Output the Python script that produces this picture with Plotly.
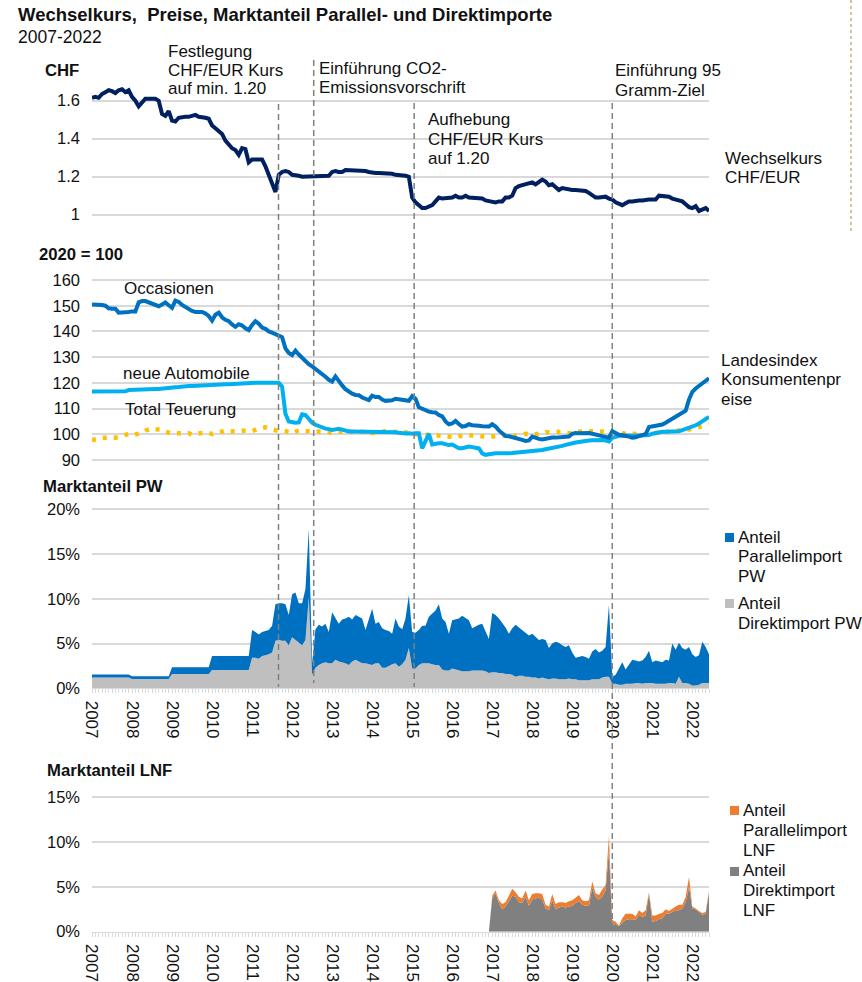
import plotly.graph_objects as go

# ---------------------------------------------------------------
# Monthly data, January 2007 .. June 2022
# ---------------------------------------------------------------
START_YEAR = 2007

# Exchange rate CHF per EUR
chf_eur = [
    1.615, 1.62, 1.615, 1.635, 1.645, 1.655, 1.65, 1.64, 1.655, 1.66, 1.645, 1.655,   # 2007
    1.62, 1.60, 1.57, 1.59, 1.61, 1.61, 1.61, 1.61, 1.60, 1.53, 1.52, 1.545,          # 2008
    1.495, 1.49, 1.51, 1.515, 1.515, 1.515, 1.52, 1.525, 1.515, 1.515, 1.51, 1.505,   # 2009
    1.47, 1.455, 1.44, 1.425, 1.39, 1.37, 1.35, 1.34, 1.315, 1.35, 1.345, 1.275,      # 2010
    1.29, 1.29, 1.29, 1.29, 1.255, 1.21, 1.17, 1.12, 1.21, 1.225, 1.23, 1.225,        # 2011
    1.21, 1.21, 1.205, 1.20, 1.20, 1.20, 1.20, 1.20, 1.205, 1.205, 1.205, 1.205,      # 2012
    1.225, 1.23, 1.225, 1.225, 1.235, 1.235, 1.235, 1.23, 1.23, 1.23, 1.23, 1.225,    # 2013
    1.22, 1.22, 1.22, 1.22, 1.22, 1.215, 1.215, 1.21, 1.21, 1.21, 1.205, 1.20,        # 2014
    1.09, 1.065, 1.05, 1.035, 1.035, 1.04, 1.05, 1.07, 1.09, 1.085, 1.085, 1.085,     # 2015
    1.09, 1.10, 1.09, 1.09, 1.10, 1.09, 1.09, 1.09, 1.09, 1.085, 1.075, 1.07,         # 2016
    1.07, 1.065, 1.07, 1.07, 1.09, 1.09, 1.10, 1.14, 1.15, 1.155, 1.16, 1.165,        # 2017
    1.17, 1.16, 1.17, 1.185, 1.175, 1.155, 1.16, 1.145, 1.13, 1.14, 1.135, 1.13,      # 2018
    1.13, 1.13, 1.13, 1.13, 1.125, 1.115, 1.105, 1.09, 1.09, 1.095, 1.095, 1.085,     # 2019
    1.08, 1.065, 1.06, 1.05, 1.06, 1.07, 1.07, 1.075, 1.075, 1.075, 1.08, 1.08,       # 2020
    1.08, 1.08, 1.10, 1.10, 1.095, 1.095, 1.085, 1.08, 1.08, 1.07, 1.055, 1.04,       # 2021
    1.035, 1.045, 1.02, 1.025, 1.035, 1.02,                                           # 2022
]

# Consumer price index components, 2020 = 100
occasionen = [
    150.5, 150.5, 150.3, 150.3, 150.0, 149.0, 148.8, 148.8, 147.3, 147.3, 147.3, 147.6,
    147.8, 147.8, 151.3, 151.8, 151.8, 151.3, 150.8, 150.5, 149.8, 150.5, 151.3, 150.2,
    149.2, 152.0, 151.5, 150.3, 149.4, 148.5, 148.0, 147.6, 147.7, 147.6, 147.0, 146.0,
    144.2, 146.5, 147.3, 145.5, 144.5, 144.0, 142.7, 141.8, 142.8, 142.3, 141.2, 140.5,
    142.5, 144.0, 143.0, 141.5, 141.0, 140.0, 139.5, 139.0, 138.7, 137.8, 133.4, 131.6,
    130.8, 132.5, 131.0, 129.7, 128.4, 127.3, 126.4, 125.5, 124.5, 123.5, 122.4, 121.2,
    120.5, 122.5, 120.5, 119.0, 117.5, 116.5, 115.8, 115.3, 115.2, 114.3, 113.6, 113.3,
    115.0, 114.5, 114.5, 113.5, 113.0, 113.0, 113.2, 113.8, 113.6, 113.6, 113.3, 113.0,
    114.8, 113.8, 110.5, 109.8, 109.3, 108.8, 108.6, 108.5, 107.5, 107.0, 105.0, 103.9,
    104.2, 105.2, 104.0, 103.0, 103.2, 103.9, 103.5, 103.5, 103.3, 103.1, 103.2, 103.0,
    103.9, 103.0, 101.5, 100.2, 99.3, 99.2, 98.9, 98.7, 98.4, 97.8, 97.4, 97.6,
    99.1, 98.5, 98.2, 98.0, 98.3, 98.6, 98.7, 98.7, 98.8, 99.0, 99.1, 99.1,
    100.2, 100.5, 100.4, 100.5, 100.6, 100.5, 100.2, 100.0, 99.6, 99.3, 99.0, 98.7,
    101.2, 100.3, 99.8, 99.6, 99.5, 99.1, 98.7, 98.8, 99.3, 99.8, 100.0, 102.8,
    103.0, 103.2, 103.5, 103.8, 104.5, 105.3, 106.0, 106.9, 107.8, 108.6, 109.2, 113.5,
    116.5, 117.8, 118.8, 119.8, 120.8, 121.8,
]

neue_automobile = [
    116.6, 116.6, 116.6, 116.6, 116.6, 116.6, 116.6, 116.6, 116.6, 116.6, 116.7, 117.2,
    117.3, 117.3, 117.3, 117.4, 117.4, 117.4, 117.5, 117.6, 117.6, 117.8, 118.0, 118.1,
    118.2, 118.3, 118.4, 118.6, 118.7, 118.8, 118.8, 118.9, 119.0, 119.0, 119.1, 119.2,
    119.2, 119.3, 119.3, 119.4, 119.5, 119.5, 119.6, 119.6, 119.7, 119.8, 119.9, 120.0,
    120.0, 120.0, 120.0, 120.0, 120.0, 120.0, 120.0, 120.0, 120.0, 118.5, 108.0, 105.0,
    104.6, 104.5, 104.6, 107.8, 107.5, 106.0, 104.5, 103.7, 103.2, 102.5, 102.2, 102.0,
    101.7, 101.9, 102.1, 101.8, 101.3, 101.1, 101.1, 101.1, 101.1, 101.1, 101.1, 101.1,
    101.1, 101.1, 101.1, 101.1, 101.1, 101.1, 101.1, 100.8, 100.6, 100.4, 100.3, 100.4,
    100.2, 100.4, 100.4, 94.5, 97.0, 100.2, 96.0, 96.3, 96.5, 96.5, 96.2, 95.8,
    96.0, 95.5, 94.6, 94.6, 95.0, 95.2, 95.0, 94.9, 94.5, 92.6, 92.0, 92.2,
    92.5, 92.6, 92.6, 92.5, 92.6, 92.6, 92.7, 92.8, 92.9, 93.0, 93.1, 93.2,
    93.3, 93.5, 93.6, 93.9, 94.2, 94.4, 94.7, 95.0, 95.2, 95.5, 95.9, 96.3,
    96.5, 96.8, 97.0, 97.3, 97.5, 97.6, 97.7, 97.8, 97.8, 97.8, 97.6, 97.2,
    98.6, 99.2, 99.4, 99.5, 99.4, 99.3, 99.2, 99.4, 99.5, 99.6, 99.7, 99.7,
    100.2, 100.6, 100.9, 101.0, 101.0, 101.0, 101.0, 101.0, 101.2, 101.6, 102.0, 102.3,
    102.8, 103.5, 104.2, 105.0, 106.0, 106.8,
]

total_teuerung = [
    97.8, 97.9, 98.3, 98.6, 98.8, 99.0, 98.8, 98.7, 98.9, 99.3, 99.8, 100.1,
    99.6, 99.8, 100.4, 100.6, 101.4, 101.9, 102.3, 102.0, 101.8, 101.7, 101.0, 100.6,
    100.3, 100.5, 100.2, 100.3, 100.3, 100.4, 99.9, 100.2, 100.4, 100.5, 100.6, 100.6,
    100.1, 100.4, 100.9, 101.3, 101.4, 101.1, 101.0, 101.0, 101.2, 101.4, 101.4, 101.2,
    101.2, 101.7, 102.2, 102.5, 102.7, 102.5, 101.9, 101.6, 101.6, 101.6, 101.2, 101.0,
    100.4, 101.0, 101.5, 101.4, 101.3, 101.2, 100.8, 101.0, 101.1, 101.0, 100.7, 100.6,
    100.3, 100.6, 100.9, 100.8, 101.0, 101.1, 100.8, 100.8, 100.9, 100.8, 101.0, 101.0,
    100.4, 100.7, 101.0, 101.1, 101.2, 101.1, 100.9, 100.9, 101.0, 100.9, 100.8, 100.5,
    100.1, 99.9, 100.1, 99.9, 99.9, 99.8, 99.5, 99.4, 99.3, 99.3, 99.2, 99.0,
    98.8, 98.9, 99.2, 99.4, 99.6, 99.7, 99.5, 99.5, 99.4, 99.3, 99.1, 98.9,
    99.1, 99.5, 99.6, 99.6, 99.7, 99.6, 99.3, 99.4, 99.6, 100.0, 100.2, 100.1,
    99.8, 100.0, 100.1, 100.4, 100.8, 101.0, 100.8, 100.9, 101.0, 101.0, 100.7, 100.6,
    100.3, 100.7, 101.0, 101.3, 101.4, 101.3, 101.3, 101.4, 101.1, 101.0, 100.9, 100.8,
    100.6, 100.8, 100.9, 100.3, 100.1, 100.2, 100.1, 100.1, 100.0, 99.8, 99.9, 100.0,
    100.3, 100.5, 100.6, 100.8, 101.0, 101.0, 101.1, 101.3, 101.5, 101.5, 101.7, 101.7,
    101.8, 102.3, 102.8, 103.3, 103.6, 103.9,
]

# Market share of passenger cars (PW), percent
pw_direkt = [
    1.2, 1.2, 1.2, 1.2, 1.2, 1.2, 1.2, 1.2, 1.2, 1.2, 1.2, 1.2,
    1.05, 1.05, 1.05, 1.05, 1.05, 1.05, 1.05, 1.05, 1.05, 1.05, 1.05, 1.05,
    1.6, 1.6, 1.6, 1.6, 1.6, 1.6, 1.6, 1.6, 1.6, 1.6, 1.6, 1.6,
    2.05, 2.05, 2.05, 2.05, 2.05, 2.05, 2.05, 2.05, 2.05, 2.05, 2.05, 2.05,
    3.4, 3.4, 3.3, 3.6, 3.7, 3.8, 4.0, 5.3, 5.4, 5.3, 5.3, 4.8,
    5.7, 5.4, 5.0, 4.8, 5.4, 10.2, 1.5, 2.3, 2.6, 2.8, 2.9, 2.8,
    2.8, 3.2, 3.0, 2.9, 2.8, 2.6, 3.0, 3.2, 3.0, 2.8, 2.8, 2.7,
    2.6, 2.8, 2.8, 2.3, 2.3, 2.5, 2.7, 2.8, 2.4, 2.7, 3.2, 4.5,
    2.2, 2.2, 2.6, 2.8, 2.8, 2.8, 2.7, 2.6, 2.6, 2.1, 2.0, 2.0,
    2.2, 2.1, 2.0, 1.9, 1.9, 1.9, 2.0, 2.0, 2.0, 2.0, 1.9, 1.7,
    1.8, 1.8, 1.7, 1.7, 1.6, 1.6, 1.5, 1.3, 1.4, 1.4, 1.3, 1.3,
    1.2, 1.2, 1.1, 1.2, 1.1, 1.0, 1.1, 1.1, 1.0, 1.0, 1.0, 1.1,
    1.0, 1.0, 0.9, 0.9, 0.9, 0.9, 1.0, 1.0, 1.0, 1.2, 1.3, 1.3,
    0.5, 0.5, 0.4, 0.4, 0.5, 0.5, 0.5, 0.6, 0.6, 0.5, 0.6, 0.6,
    0.6, 0.5, 0.5, 0.5, 0.5, 0.6, 0.6, 0.5, 1.3, 0.6, 0.6, 0.5,
    0.3, 0.3, 0.4, 0.6, 0.6, 0.6,
]

pw_parallel = [
    0.35, 0.35, 0.35, 0.35, 0.35, 0.35, 0.35, 0.35, 0.35, 0.35, 0.35, 0.35,
    0.3, 0.3, 0.3, 0.3, 0.3, 0.3, 0.3, 0.3, 0.3, 0.3, 0.3, 0.3,
    0.75, 0.75, 0.75, 0.75, 0.75, 0.75, 0.75, 0.75, 0.75, 0.75, 0.75, 0.75,
    1.55, 1.55, 1.55, 1.55, 1.55, 1.55, 1.55, 1.55, 1.55, 1.55, 1.55, 1.55,
    3.1, 2.9, 2.7, 2.7, 2.7, 2.7, 3.0, 4.1, 4.1, 4.2, 4.1, 3.4,
    4.8, 5.3, 4.5, 4.7, 5.7, 7.6, 1.3, 4.3, 4.5, 4.1, 4.3, 3.5,
    5.7, 4.6, 4.2, 4.8, 5.0, 5.4, 4.7, 5.0, 5.0, 5.0, 3.7, 4.9,
    6.3, 4.4, 4.6, 4.4, 4.2, 3.9, 3.4, 5.0, 4.5, 3.9, 4.6, 5.9,
    4.1, 4.0, 3.9, 4.2, 4.2, 5.2, 5.6, 6.1, 6.8, 5.7, 5.4, 4.1,
    5.4, 5.6, 5.8, 6.2, 5.9, 5.7, 4.7, 4.9, 5.1, 5.2, 4.4, 3.8,
    6.6, 6.4, 6.1, 5.6, 5.2, 4.5, 5.2, 5.8, 5.4, 5.1, 5.0, 4.6,
    4.9, 4.6, 4.3, 4.3, 4.3, 3.5, 3.9, 4.1, 4.1, 3.8, 3.6, 3.7,
    3.0, 2.4, 2.6, 2.7, 2.6, 2.4, 3.1, 3.4, 3.0, 3.0, 3.3, 8.0,
    0.8, 1.0, 1.8, 2.5, 1.6, 2.2, 2.7, 2.5, 2.4, 2.6, 2.9, 3.6,
    2.3, 2.6, 2.5, 2.4, 2.7, 2.5, 4.4, 3.8, 3.8, 3.9, 3.7, 4.1,
    3.5, 3.2, 3.3, 4.6, 4.0, 3.2,
]

# Market share of light commercial vehicles (LNF), percent, December 2016 .. June 2022
LNF_START = 2016 + 11 / 12
lnf_direkt = [
    0.0,
    3.7, 4.3, 3.2, 2.5, 2.8, 3.4, 4.0, 3.9, 3.3, 3.2, 3.9, 2.9,
    3.6, 3.7, 3.8, 3.6, 2.6, 2.4, 3.5, 2.5, 2.7, 2.8, 2.7, 2.8,
    2.9, 3.2, 3.4, 3.0, 2.9, 2.9, 4.9, 3.9, 3.6, 3.9, 4.6, 9.1,
    0.7, 0.9, 0.6, 1.0, 1.3, 1.4, 1.4, 1.3, 1.9, 1.6, 1.8, 4.2,
    1.1, 1.2, 1.4, 1.5, 2.0, 2.0, 2.2, 2.4, 2.4, 2.6, 3.3, 5.0,
    2.6, 2.5, 2.2, 1.9, 2.0, 4.4,
]
lnf_parallel = [
    0.0,
    0.3, 0.3, 0.3, 0.6, 0.5, 0.6, 0.8, 0.5, 0.6, 0.5, 0.7, 0.6,
    0.6, 0.6, 0.5, 0.6, 0.4, 0.4, 0.7, 0.6, 0.6, 0.5, 0.5, 0.6,
    0.6, 0.6, 0.7, 0.5, 0.5, 0.6, 0.7, 0.4, 0.5, 0.8, 0.6, 1.6,
    0.6, 0.2, 0.1, 0.5, 0.7, 0.6, 0.6, 0.4, 0.5, 0.5, 0.6, 0.2,
    0.7, 0.6, 0.6, 0.6, 0.5, 0.3, 0.4, 0.4, 0.6, 0.4, 0.6, 1.1,
    0.2, 0.1, 0.1, 0.2, 0.2, 0.1,
]

# Policy events marked with vertical dashed lines (decimal years)
events = [2011.66, 2012.54, 2015.05, 2020.0]
years = list(range(2007, 2023))

# ---------------------------------------------------------------
# Geometry helpers (pixel -> paper coordinates)
# ---------------------------------------------------------------
W, H = 862, 982
FONT = "Liberation Sans, Arial, sans-serif"
BLACK = "#111111"
GRID = "#d9d9d9"


def fx(px):
    return px / W


def fy(py):
    return 1 - py / H


months = [START_YEAR + i / 12 for i in range(len(chf_eur))]
lnf_months = [LNF_START + i / 12 for i in range(len(lnf_direkt))]
x_end = months[-1]
x_dom = [fx(92), fx(709)]

fig = go.Figure()

# --- exchange rate panel ---
fig.add_trace(go.Scatter(x=months, y=chf_eur, mode="lines",
                         line=dict(color="#002060", width=4),
                         xaxis="x", yaxis="y", showlegend=False))

# --- price index panel ---
fig.add_trace(go.Scatter(x=months, y=total_teuerung, mode="lines",
                         line=dict(color="#ffc000", width=4.5, dash="4px,7px"),
                         xaxis="x2", yaxis="y2", showlegend=False))
fig.add_trace(go.Scatter(x=months, y=neue_automobile, mode="lines",
                         line=dict(color="#00b0f0", width=4),
                         xaxis="x2", yaxis="y2", showlegend=False))
fig.add_trace(go.Scatter(x=months, y=occasionen, mode="lines",
                         line=dict(color="#0070c0", width=4),
                         xaxis="x2", yaxis="y2", showlegend=False))

# --- passenger car market share (stacked areas) ---
fig.add_trace(go.Scatter(x=months, y=pw_direkt, mode="lines", stackgroup="pw",
                         line=dict(width=0), fillcolor="#bfbfbf",
                         xaxis="x3", yaxis="y3", showlegend=False))
fig.add_trace(go.Scatter(x=months, y=pw_parallel, mode="lines", stackgroup="pw",
                         line=dict(width=0), fillcolor="#0070c0",
                         xaxis="x3", yaxis="y3", showlegend=False))

# --- light commercial vehicle market share (stacked areas) ---
fig.add_trace(go.Scatter(x=lnf_months, y=lnf_direkt, mode="lines", stackgroup="lnf",
                         line=dict(width=0), fillcolor="#808080",
                         xaxis="x4", yaxis="y4", showlegend=False))
fig.add_trace(go.Scatter(x=lnf_months, y=lnf_parallel, mode="lines", stackgroup="lnf",
                         line=dict(width=0), fillcolor="#ed7d31",
                         xaxis="x4", yaxis="y4", showlegend=False))

# ---------------------------------------------------------------
# Axes
# ---------------------------------------------------------------
hidden_x = dict(domain=x_dom, range=[START_YEAR, x_end], showticklabels=False,
                showgrid=False, zeroline=False, showline=False, ticks="",
                automargin=False)
shown_x = dict(domain=x_dom, range=[START_YEAR, x_end], showgrid=False, zeroline=False,
               showline=True, linecolor=GRID, linewidth=1, automargin=False,
               tickmode="linear", tick0=2007, dtick=1, tickformat="d",
               ticks="outside", ticklen=4, tickcolor=GRID,
               tickangle=90, ticklabelstandoff=4,
               tickfont=dict(family=FONT, size=17, color=BLACK),
               minor=dict(dtick=1 / 12, tick0=2007, ticks="outside", ticklen=4,
                          tickcolor=GRID, showgrid=False))

yfont = dict(family=FONT, size=16.5, color=BLACK)
ybase = dict(showline=False, zeroline=False, gridcolor=GRID, gridwidth=1.5,
             ticks="", tickfont=yfont, ticklabelstandoff=11, fixedrange=True,
             automargin=False)

fig.update_layout(
    xaxis=dict(anchor="y", **hidden_x),
    xaxis2=dict(anchor="y2", **hidden_x),
    xaxis3=dict(anchor="y3", **shown_x),
    xaxis4=dict(anchor="y4", **shown_x),
    yaxis=dict(anchor="x", domain=[fy(233.7), fy(81.7)], range=[0.9, 1.7],
               tickmode="array", tickvals=[1, 1.2, 1.4, 1.6],
               ticktext=["1", "1.2", "1.4", "1.6"], **ybase),
    yaxis2=dict(anchor="x2", domain=[fy(467.7), fy(272.3)], range=[87, 163],
                tickmode="array", tickvals=list(range(90, 161, 10)), **ybase),
    yaxis3=dict(anchor="x3", domain=[fy(688.3), fy(504.8)], range=[0, 20.5],
                tickmode="array", tickvals=[0, 5, 10, 15, 20],
                ticktext=["0%", "5%", "10%", "15%", "20%"], **ybase),
    yaxis4=dict(anchor="x4", domain=[fy(931.7), fy(792.8)], range=[0, 15.5],
                tickmode="array", tickvals=[0, 5, 10, 15],
                ticktext=["0%", "5%", "10%", "15%"], **ybase),
)

# ---------------------------------------------------------------
# Event lines and decorations
# ---------------------------------------------------------------
shapes = []
event_spans = [(104, 687), (60, 683), (103, 687), (103, 926)]
for ev, (top, bottom) in zip(events, event_spans):
    shapes.append(dict(type="line", xref="x3", yref="paper", x0=ev, x1=ev,
                       y0=fy(top), y1=fy(bottom),
                       line=dict(color="#808080", width=1.5, dash="6px,4px"),
                       layer="above"))
# thin dotted separator at the right edge of the header area
shapes.append(dict(type="line", xref="paper", yref="paper", x0=fx(851), x1=fx(851),
                   y0=fy(0), y1=fy(232), line=dict(color="#cfc69a", width=2, dash="dot")))

# legend swatches
for (x0, y0, size, color) in [(725, 533, 9, "#0070c0"), (725, 599, 9, "#bfbfbf"),
                              (730, 806, 9, "#ed7d31"), (730, 867, 9, "#808080")]:
    shapes.append(dict(type="rect", xref="paper", yref="paper",
                       x0=fx(x0), x1=fx(x0 + size), y0=fy(y0), y1=fy(y0 + size),
                       fillcolor=color, line=dict(width=0)))

annotations = []


def label(lines, x, y, step=19.3, size=17, bold=False):
    for i, t in enumerate(lines):
        annotations.append(dict(
            text=f"<b>{t}</b>" if bold else t,
            x=fx(x - 2), y=fy(y + i * step), xref="paper", yref="paper",
            xanchor="left", yanchor="middle", showarrow=False,
            font=dict(family=FONT, size=size, color=BLACK)))


label(["Wechselkurs,\u00a0 Preise, Marktanteil Parallel- und Direktimporte"], 18, 15,
      size=18.5, bold=True)
label(["2007-2022"], 18, 37, size=17.5)

label(["CHF"], 45, 70, size=16.7, bold=True)
label(["2020 = 100"], 39, 255, size=16.7, bold=True)
label(["Marktanteil PW"], 43, 487, size=16.7, bold=True)
label(["Marktanteil LNF"], 47, 770, size=16.7, bold=True)

label(["Festlegung", "CHF/EUR Kurs", "auf min. 1.20"], 168, 52, step=18.2)
label(["Einführung CO2-", "Emissionsvorschrift"], 319, 69, step=18.4)
label(["Aufhebung", "CHF/EUR Kurs", "auf 1.20"], 428, 120, step=19.2)
label(["Einführung 95", "Gramm-Ziel"], 615, 71, step=19.5)
label(["Wechselkurs", "CHF/EUR"], 725, 158, step=19)

label(["Occasionen"], 124, 289)
label(["neue Automobile"], 123, 374)
label(["Total Teuerung"], 125, 409)
label(["Landesindex", "Konsumentenpr", "eise"], 721, 360, step=19.7)

label(["Anteil", "Parallelimport", "PW"], 738, 537, step=19.6)
label(["Anteil", "Direktimport PW"], 738, 603, step=20)
label(["Anteil", "Parallelimport", "LNF"], 743, 810, step=20)
label(["Anteil", "Direktimport", "LNF"], 743, 870, step=20)

fig.update_layout(
    width=W, height=H,
    margin=dict(l=0, r=0, t=0, b=0, autoexpand=False),
    paper_bgcolor="white", plot_bgcolor="white",
    font=dict(family=FONT, color=BLACK),
    showlegend=False,
    shapes=shapes,
    annotations=annotations,
)

fig.write_html("out.html")
